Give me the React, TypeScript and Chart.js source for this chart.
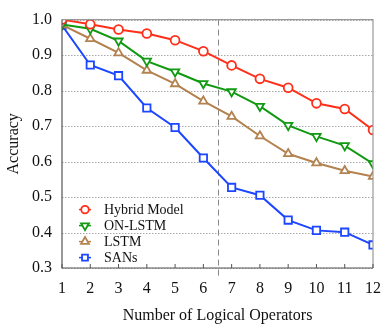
import React, { useEffect, useRef } from "react";
import { Chart, registerables } from "chart.js";
Chart.register(...registerables);

const operators = [1, 2, 3, 4, 5, 6, 7, 8, 9, 10, 11, 12];
const hybrid = [1.0, 0.987, 0.972, 0.961, 0.942, 0.911, 0.871, 0.833, 0.808, 0.764, 0.748, 0.689];
const onLstm = [0.986, 0.974, 0.94, 0.883, 0.853, 0.82, 0.797, 0.756, 0.702, 0.671, 0.645, 0.594];
const lstm = [0.985, 0.946, 0.906, 0.857, 0.819, 0.77, 0.727, 0.672, 0.622, 0.596, 0.574, 0.558];
const sans = [0.984, 0.872, 0.842, 0.751, 0.696, 0.61, 0.527, 0.505, 0.435, 0.406, 0.401, 0.365];
const yTicks = [0.3, 0.4, 0.5, 0.6, 0.7, 0.8, 0.9, 1.0];
const splitAt = 6.5;

const FONT = "'Liberation Serif', 'Times New Roman', serif";

const series = [
  { label: "Hybrid Model", data: hybrid, color: "#ff2f1a", style: "circle", rot: 0 },
  { label: "ON-LSTM", data: onLstm, color: "#119a11", style: "triangle", rot: 180 },
  { label: "LSTM", data: lstm, color: "#b3824f", style: "triangle", rot: 0 },
  { label: "SANs", data: sans, color: "#1c46ff", style: "rect", rot: 0 },
];

function drawMarker(ctx: CanvasRenderingContext2D, o: any, x: number, y: number) {
  const r = o.radius;
  ctx.beginPath();
  if (o.pointStyle === "circle") {
    ctx.arc(x, y, r, 0, Math.PI * 2);
  } else if (o.pointStyle === "rect") {
    const s = (r / Math.SQRT2) * 1.1;
    ctx.rect(x - s, y - s, 2 * s, 2 * s);
  } else {
    const rad = (o.rotation * Math.PI) / 180;
    const pts = [0, 1, 2].map((i) => {
      const a = rad + (i * 2 * Math.PI) / 3;
      return [x + Math.sin(a) * r * 1.2, y - Math.cos(a) * r * 1.2];
    });
    ctx.moveTo(pts[0][0], pts[0][1]);
    ctx.lineTo(pts[1][0], pts[1][1]);
    ctx.lineTo(pts[2][0], pts[2][1]);
    ctx.closePath();
  }
  ctx.fill();
  ctx.stroke();
}

const framePlugin = {
  id: "frame",
  beforeDatasetsDraw(chart: any) {
    const { ctx, chartArea: a, scales } = chart;
    const x = scales.x;
    const y = scales.y;
    ctx.save();
    ctx.strokeStyle = "#a8a8a8";
    ctx.lineWidth = 1;
    ctx.setLineDash([1.5, 1.5]);
    yTicks.forEach((v) => {
      const py = Math.round(y.getPixelForValue(v)) + 0.5;
      ctx.beginPath();
      ctx.moveTo(a.left, py);
      ctx.lineTo(a.right, py);
      ctx.stroke();
    });
    const px = Math.round(x.getPixelForValue(splitAt)) + 0.5;
    ctx.strokeStyle = "#888";
    ctx.setLineDash([6, 4]);
    ctx.beginPath();
    ctx.moveTo(px, a.top);
    ctx.lineTo(px, a.bottom + 11);
    ctx.stroke();
    ctx.setLineDash([]);
    ctx.restore();
  },
  afterDatasetsDraw(chart: any) {
    const { ctx, chartArea: a, scales } = chart;
    const x = scales.x;
    ctx.save();
    ctx.lineWidth = 1.2;
    ctx.strokeStyle = "#999";
    ctx.beginPath();
    ctx.moveTo(a.left, a.top);
    ctx.lineTo(a.right, a.top);
    ctx.lineTo(a.right, a.bottom);
    ctx.stroke();
    ctx.strokeStyle = "#555";
    ctx.beginPath();
    ctx.moveTo(a.left, a.top);
    ctx.lineTo(a.left, a.bottom);
    ctx.lineTo(a.right, a.bottom);
    ctx.stroke();
    ctx.lineWidth = 1;
    operators.forEach((v) => {
      const p = x.getPixelForValue(v);
      ctx.beginPath();
      ctx.moveTo(p, a.bottom);
      ctx.lineTo(p, a.bottom - 4);
      ctx.stroke();
    });
    const lx = a.left + 23;
    let ly = a.top + 190;
    ctx.font = `14px ${FONT}`;
    ctx.textBaseline = "middle";
    chart.data.datasets.forEach((ds: any) => {
      ctx.strokeStyle = ds.borderColor;
      ctx.lineWidth = 1.5;
      ctx.beginPath();
      ctx.moveTo(lx - 6, ly);
      ctx.lineTo(lx + 6, ly);
      ctx.stroke();
      ctx.fillStyle = "#fff";
      ctx.lineWidth = 1.8;
      drawMarker(ctx, { pointStyle: ds.pointStyle, rotation: ds.pointRotation, radius: 3.8 }, lx, ly);
      ctx.fillStyle = "#111";
      ctx.fillText(ds.label, lx + 19, ly + 1);
      ly += 16;
    });
    ctx.restore();
  },
};

export default function App() {
  const ref = useRef<HTMLCanvasElement>(null);
  useEffect(() => {
    document.body.style.margin = "0";
    const chart = new Chart(ref.current!, {
      type: "line",
      data: {
        datasets: series.map((s) => ({
          label: s.label,
          data: s.data.map((v, i) => ({ x: operators[i], y: v })),
          borderColor: s.color,
          backgroundColor: "#fff",
          pointBackgroundColor: "#fff",
          pointBorderColor: s.color,
          pointStyle: s.style as any,
          pointRotation: s.rot,
          pointRadius: s.style === "circle" ? 4.4 : s.style === "rect" ? 5.2 : 4.8,
          pointBorderWidth: 1.8,
          borderWidth: 2,
          tension: 0,
        })),
      },
      options: {
        animation: false,
        responsive: false,
        maintainAspectRatio: false,
        layout: { padding: { top: 17, right: 16, left: 0, bottom: 0 } },
        plugins: { legend: { display: false }, tooltip: { enabled: false } },
        scales: {
          x: {
            type: "linear",
            min: 1,
            max: 12,
            afterFit: (s: any) => { s.height = 65; },
            afterBuildTicks: (s: any) => { s.ticks = operators.map((v) => ({ value: v })); },
            grid: { display: false, drawTicks: false },
            border: { display: false },
            ticks: { color: "#111", font: { family: FONT, size: 16 }, padding: 11 },
            title: { display: true, text: "Number of Logical Operators", color: "#111", font: { family: FONT, size: 16 }, padding: { top: 0, bottom: 8 } },
          },
          y: {
            min: 0.3,
            max: 1.0,
            afterFit: (s: any) => { s.width = 62; },
            afterBuildTicks: (s: any) => { s.ticks = yTicks.map((v) => ({ value: v })); },
            grid: { display: false, drawTicks: false },
            border: { display: false },
            ticks: { color: "#111", font: { family: FONT, size: 16 }, padding: 10, callback: (v: any) => Number(v).toFixed(1) },
            title: { display: true, text: "Accuracy", color: "#111", font: { family: FONT, size: 16 }, padding: { top: 4, bottom: 0 } },
          },
        },
      },
      plugins: [framePlugin],
    });
    return () => chart.destroy();
  }, []);
  return (
    <div style={{ position: "absolute", left: 0, top: 0, width: 392, height: 333, background: "#fff" }}>
      <canvas ref={ref} width={392} height={333} />
    </div>
  );
}
